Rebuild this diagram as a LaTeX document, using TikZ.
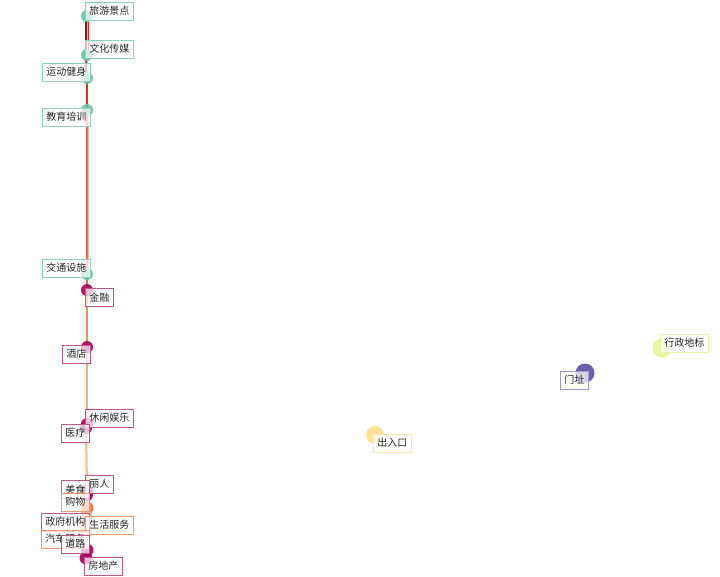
\documentclass[tikz,border=0pt]{standalone}
\usepackage{fontspec}
\newfontfamily\cjk{Noto Sans CJK SC}
\definecolor{teal}{HTML}{66C2A5}
\definecolor{tealedge}{HTML}{8FD3BB}
\definecolor{mag}{HTML}{A8005A}
\definecolor{magedge}{HTML}{C2568E}
\definecolor{orng}{HTML}{F46D43}
\definecolor{lorng}{HTML}{FDAE87}
\definecolor{orngedge}{HTML}{F49A70}
\definecolor{gold}{HTML}{FEE08B}
\definecolor{goldedge}{HTML}{FBE9B5}
\definecolor{purp}{HTML}{5E4FA2}
\definecolor{purpedge}{HTML}{A398CC}
\definecolor{lime}{HTML}{E6F598}
\definecolor{limeedge}{HTML}{E9F2AE}
\definecolor{dred}{HTML}{9E0A1E}
\definecolor{red1}{HTML}{D73027}
\definecolor{red2}{HTML}{F06A48}
\definecolor{or1}{HTML}{F88A52}
\definecolor{or2}{HTML}{FBA56C}
\definecolor{or3}{HTML}{FDBF88}
\definecolor{pinkline}{HTML}{F2B9B5}
\tikzset{
  dot/.style={circle, inner sep=0pt, fill opacity=0.9, draw=none, minimum size=#1},
  dot/.default=12pt,
  lbl/.style={draw=#1, line width=0.8pt, fill=white, fill opacity=0.72, text opacity=1,
    anchor=north west, inner xsep=4pt, inner ysep=0pt, minimum height=17.5pt,
    font=\cjk\fontsize{10}{11}\selectfont, text=black!85},
  edge/.style={line width=#1},
  edge/.default=2pt
}
\begin{document}
\begin{tikzpicture}[x=1pt,y=-1pt]
\useasboundingbox (0,0) rectangle (720,576);
\fill[white] (0,0) rectangle (720,576);

% node positions
\coordinate (p1) at (87,16);
\coordinate (p2) at (87,55);
\coordinate (p3) at (87,78);
\coordinate (p4) at (87,110);
\coordinate (p5) at (87,274);
\coordinate (p6) at (87,290);
\coordinate (p7) at (87,347);
\coordinate (p8) at (87,424);
\coordinate (p9) at (86,428);
\coordinate (p10) at (87,491);
\coordinate (p11) at (87,495);
\coordinate (p12) at (87,508);
\coordinate (p13) at (86,517);
\coordinate (p14) at (86,525);
\coordinate (p15) at (86,532);
\coordinate (p16) at (87,550);
\coordinate (p17) at (86,558);

% connectors
\draw[edge=1.4pt, pinkline] ([xshift=0.3pt]p1) -- ([xshift=0.3pt]p3);
\draw[edge=1.4pt, dred] ([xshift=-1.2pt]p1) -- ([xshift=-1.2pt]p2);
\draw[edge=1.4pt, red1] ([xshift=1.6pt]p1) -- ([xshift=1.6pt]p2);
\draw[edge=1.4pt, red1] ([xshift=-1pt]p2) -- ([xshift=-1pt]p3);
\draw[edge=2.2pt, red1] (p3) -- (p4);
\draw[edge=1.4pt, pinkline] ([xshift=1pt]p4) -- ([xshift=1pt]p5);
\draw[edge=2.2pt, red2] (p4) -- (p5);
\draw[edge=2.2pt, red2] (p5) -- (p6);
\draw[edge=2.2pt, or1] (p6) -- (p7);
\draw[edge=2.2pt, or2] (p7) -- (p8);
\draw[edge=2.2pt, or3] (p8) -- (p9);
\draw[edge=2.2pt, or3] (p9) -- (p10);
\foreach \a/\b in {10/11,11/12,12/13,13/14,14/15,15/16,16/17}
  \draw[edge=2.2pt, or3] (p\a) -- (p\b);

% circles
\node[dot, fill=teal] (c1) at (p1) {};
\node[dot, fill=teal] (c2) at (p2) {};
\node[dot, fill=teal] (c3) at (p3) {};
\node[dot, fill=teal] (c4) at (p4) {};
\node[dot, fill=teal] (c5) at (p5) {};
\node[dot, fill=mag] (c6) at (p6) {};
\node[dot, fill=mag] (c7) at (p7) {};
\node[dot, fill=mag] (c8) at (p8) {};
\node[dot, fill=mag] (c9) at (p9) {};
\node[dot, fill=mag] (c10) at (p10) {};
\node[dot, fill=mag] (c11) at (p11) {};
\node[dot=13pt, fill=orng] (c12) at (p12) {};
\node[dot=13pt, fill=lorng] (c13) at (p13) {};
\node[dot=13pt, fill=lorng] (c14) at (p14) {};
\node[dot=13pt, fill=lorng] (c15) at (p15) {};
\node[dot=13pt, fill=mag] (c16) at (p16) {};
\node[dot=13pt, fill=mag] (c17) at (p17) {};
\node[dot=18pt, fill=gold] (c18) at (375,435) {};
\node[dot=19pt, fill=purp] (c19) at (585,373) {};
\node[dot=19pt, fill=lime] (c20) at (662,348) {};

% labels
\node[lbl=tealedge] (l1) at (85,2) {旅游景点};
\node[lbl=tealedge] (l2) at (85,40) {文化传媒};
\node[lbl=tealedge] (l3) at (42,63) {运动健身};
\node[lbl=tealedge] (l4) at (42,108) {教育培训};
\node[lbl=tealedge] (l5) at (42,259) {交通设施};
\node[lbl=magedge] (l6) at (85,288) {金融};
\node[lbl=magedge] (l7) at (62,345) {酒店};
\node[lbl=magedge] (l8) at (85,409) {休闲娱乐};
\node[lbl=magedge] (l9) at (61,424) {医疗};
\node[lbl=magedge] (l10) at (85,475) {丽人};
\node[lbl=magedge] (l11) at (61,480) {美食};
\node[lbl=orngedge] (l12) at (61,493) {购物};
\node[lbl=magedge] (l13) at (41,513) {政府机构};
\node[lbl=orngedge] (l14) at (85,516) {生活服务};
\node[lbl=orngedge] (l15) at (41,530) {汽车服务};
\node[lbl=magedge] (l16) at (61,535) {道路};
\node[lbl=magedge] (l17) at (84,557) {房地产};
\node[lbl=goldedge] (l18) at (373,434) {出入口};
\node[lbl=purpedge] (l19) at (560,371) {门址};
\node[lbl=limeedge] (l20) at (660,334) {行政地标};
\end{tikzpicture}
\end{document}
